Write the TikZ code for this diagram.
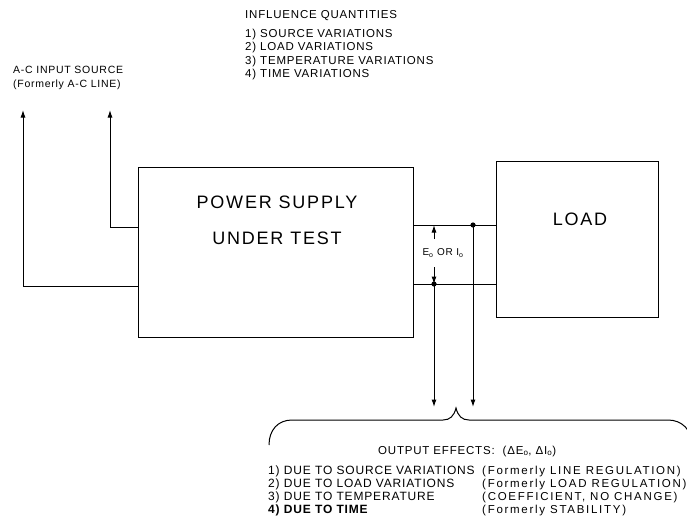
\documentclass[tikz,border=0pt]{standalone}
\usepackage{fontspec}
\setmainfont{Liberation Sans}
\newfontfamily\notefont{Liberation Sans}[LetterSpace=7]
\newfontfamily\widenotefont{Liberation Sans}[LetterSpace=15]
\newfontfamily\boxfont{Liberation Sans}[LetterSpace=10]
\usetikzlibrary{arrows.meta,positioning,calc}

\begin{document}
\begin{tikzpicture}[x=1pt,y=-1pt,
  block/.style={draw,line width=1.1pt,inner sep=0pt},
  wire/.style={line width=1pt},
  arrowhd/.style={-{Latex[length=7.5pt,width=5pt]}},
  smallnote/.style={font=\notefont\fontsize{11.5}{12}\selectfont,inner sep=0pt,anchor=base west},
  effnote/.style={smallnote,font=\notefont\fontsize{12}{12}\selectfont},
  widenote/.style={smallnote,font=\widenotefont\fontsize{11.5}{12}\selectfont},
  boxtext/.style={font=\boxfont\fontsize{18}{36}\selectfont,align=center,inner sep=0pt}]
  \path[fill=white,use as bounding box] (0,0) rectangle (687,524);

  % Blocks
  \node[block,minimum width=275pt,minimum height=170pt] (psu) at (276,252.5) {};
  \node[boxtext] (psulabel) at (277,220) {POWER SUPPLY\\UNDER TEST};
  \node[block,minimum width=161.5pt,minimum height=156.5pt] (load) at (577.5,239.5) {};
  \node[boxtext] (loadlabel) at (580,219) {LOAD};

  % Influence quantities
  \node[smallnote] (infl0) at (245,19) {INFLUENCE QUANTITIES};
  \node[smallnote] (infl1) at (245,38) {1) SOURCE VARIATIONS};
  \node[smallnote] (infl2) at (245,51) {2) LOAD VARIATIONS};
  \node[smallnote] (infl3) at (245,65) {3) TEMPERATURE VARIATIONS};
  \node[smallnote] (infl4) at (245,78) {4) TIME VARIATIONS};

  % A-C input
  \node[smallnote,font=\notefont\fontsize{10.5}{12}\selectfont] (src1) at (13,74) {A-C INPUT SOURCE};
  \node[smallnote,font=\notefont\fontsize{10.5}{12}\selectfont] (src2) at (13,88) {(Formerly A-C LINE)};
  \coordinate (srcA) at (23,110);
  \coordinate (srcB) at (110,110);
  \coordinate (inlo) at (0,286);
  \coordinate (inhi) at (0,227);
  \draw[wire,arrowhd] (psu.west |- inlo) -| (srcA);
  \draw[wire,arrowhd] (psu.west |- inhi) -| (srcB);

  % Output lines
  \coordinate (outhi) at (0,225);
  \coordinate (outlo) at (0,284);
  \coordinate (dotA) at (473,225);
  \coordinate (dotB) at (434,284);
  \coordinate (ends) at (0,407);
  \draw[wire] (psu.east |- outhi) -- (load.west |- outhi);
  \draw[wire] (psu.east |- outlo) -- (load.west |- outlo);
  \fill (dotA) circle (2.6);
  \fill (dotB) circle (2.6);
  \draw[wire,arrowhd] (dotA) -- (dotA |- ends);
  \draw[wire,arrowhd] (dotB) -- (dotB |- ends);

  % Eo or Io
  \draw[wire,arrowhd] (dotB |- 0,239) -- (dotB |- outhi);
  \draw[wire,arrowhd] (dotB |- 0,267) -- (dotB);
  \node[font=\notefont\fontsize{10}{10}\selectfont,inner sep=0pt,fill=white] (eo) at (443,253) {E\textsubscript{o} OR I\textsubscript{o}};

  % Brace
  \draw[wire] (269,445) .. controls (269,430) and (278,420) .. (292,420) -- (443,420)
    .. controls (450,420) and (454,416) .. (456,408)
    .. controls (458,416) and (462,420) .. (469,420) -- (668,420)
    .. controls (682,420) and (692,430) .. (692,445);

  % Output effects
  \node[smallnote] (eff0) at (378,454) {OUTPUT EFFECTS:\ \ (ΔE\textsubscript{o}, ΔI\textsubscript{o})};
  \node[effnote] (eff1) at (268,474) {1) DUE TO SOURCE VARIATIONS};
  \node[effnote] (eff2) at (268,487) {2) DUE TO LOAD VARIATIONS};
  \node[effnote] (eff3) at (268,500) {3) DUE TO TEMPERATURE};
  \node[effnote,font=\notefont\bfseries\fontsize{12}{12}\selectfont] (eff4) at (268,513) {4) DUE TO TIME};
  \node[widenote] (was1) at (482,474) {(Formerly LINE REGULATION)};
  \node[widenote] (was2) at (482,487) {(Formerly LOAD REGULATION)};
  \node[widenote] (was3) at (482,500) {(COEFFICIENT, NO CHANGE)};
  \node[widenote] (was4) at (482,513) {(Formerly STABILITY)};
\end{tikzpicture}
\end{document}
